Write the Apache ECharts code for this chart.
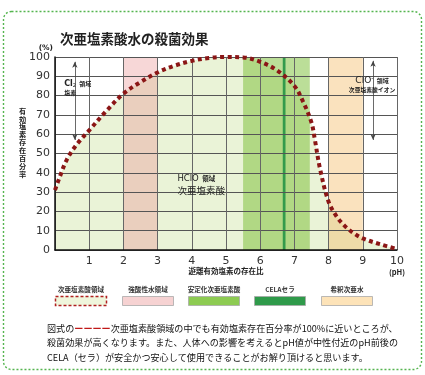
<!DOCTYPE html>
<html><head><meta charset="utf-8">
<script src="https://cdn.jsdelivr.net/npm/echarts@6/dist/echarts.min.js"></script>
<style>html,body{margin:0;padding:0;background:#fff}#c{width:425px;height:375px}</style>
</head><body><div id="c"></div>
<script>
// ---- data ----
const titleText = '次亜塩素酸水の殺菌効果';
const yAxisTitle = '有効塩素存在百分率';
const xAxisTitle = '遊離有効塩素の存在比';
const yTicks = [0,10,20,30,40,50,60,70,80,90,100];
const xTicks = [1,2,3,4,5,6,7,8,9,10];
const curvePH = [0, 0.1, 0.35, 0.65, 1, 1.5, 2, 2.5, 3, 3.5, 4, 4.5, 5, 5.5, 6, 6.5, 7, 7.25, 7.5, 7.6, 7.75, 8, 8.25, 8.5, 8.75, 9, 9.5, 10];
const curveRatio = [31, 36, 47, 55, 62, 72, 81, 87, 92, 95.5, 98, 99.5, 100, 99.8, 97.5, 93, 85, 77, 66, 57, 42, 25, 17, 12, 8.5, 6, 3, 0.5];
const bandNames = ['強酸性水領域', '安定化次亜塩素酸', 'CELAセラ', '希釈次亜水'];
const bandStart = [2, 5.5, 6.66, 8];
const bandEnd = [3, 7.45, 6.74, 9];
const legendNames = ['次亜塩素酸領域', '強酸性水領域', '安定化次亜塩素酸', 'CELAセラ', '希釈次亜水'];
const paragraph = [
  '図式の{r|ーーーー}次亜塩素酸領域の中でも有効塩素存在百分率が100%に近いところが、',
  '殺菌効果が高くなります。また、人体への影響を考えるとpH値が中性付近のpH前後の',
  'CELA（セラ）が安全かつ安心して使用できることがお解り頂けると思います。'
];

// ---- styles ----
const bandColors = ['rgba(235,150,150,0.38)', 'rgba(120,190,50,0.5)', 'rgba(40,150,70,0.92)', 'rgba(245,190,110,0.45)'];
const legendFill = ['#eff6dc', '#f6d2d2', '#8dcb52', '#2f9a4a', '#fde3b8'];
const JP = '"Noto Sans CJK JP", sans-serif';
const NUM = '"DejaVu Sans", sans-serif';

const chart = echarts.init(document.getElementById('c'));
const pts = curvePH.map((x, i) => [x, curveRatio[i]]);

chart.setOption({
  animation: false,
  title: {text: titleText, left: 55, top: 27, textStyle: {fontFamily: JP, fontSize: 13.5, fontWeight: 'bold', color: '#222'}},
  grid: {left: 55, right: 28, top: 57, bottom: 125},
  xAxis: {
    type: 'value', min: 0, max: 10, interval: 1, z: 5,
    axisLine: {lineStyle: {color: '#111', width: 1.5}},
    axisTick: {show: false},
    axisLabel: {margin: 6, fontFamily: NUM, fontSize: 11, color: '#333',
      formatter: v => v === 0 ? '' : (v === 10 ? '10\n{p|(pH)}' : String(v)),
      rich: {p: {fontFamily: JP, fontSize: 7.5, color: '#222', fontWeight: 'bold', lineHeight: 10}}},
    splitLine: {show: true, lineStyle: {color: '#666', width: 1}}
  },
  yAxis: {
    type: 'value', min: 0, max: 100, interval: 10, z: 5,
    name: '(%)', nameLocation: 'end', nameGap: 4,
    nameTextStyle: {fontFamily: NUM, fontSize: 7.5, color: '#222', fontWeight: 'bold', align: 'right', padding: [0, 2, 0, 0]},
    axisLine: {show: true, lineStyle: {color: '#111', width: 1.5}},
    axisTick: {show: false},
    axisLabel: {margin: 5, fontFamily: NUM, fontSize: 11, color: '#333'},
    splitLine: {show: true, lineStyle: {color: '#555', width: 1}}
  },
  series: [
    {
      type: 'line', z: 1, data: pts, smooth: 0.35, showSymbol: false, silent: true,
      lineStyle: {opacity: 0}, areaStyle: {color: '#eaf3d7', opacity: 1}
    },
    {
      type: 'line', z: 3, data: [[0, 0]], showSymbol: false, lineStyle: {opacity: 0}, silent: true,
      markArea: {silent: true, z: 3, data: bandStart.map((s, i) => [
        {name: bandNames[i], xAxis: s, itemStyle: {color: bandColors[i]}},
        {xAxis: bandEnd[i]}
      ]), label: {show: false}},
      markLine: {silent: true, z: 6, symbol: ['arrow', 'arrow'], symbolSize: [4, 6],
        lineStyle: {color: '#444', width: 0.8, type: 'solid'}, label: {show: false},
        data: [
          [{coord: [0.58, 97.5]}, {coord: [0.58, 57]}],
          [{coord: [9.3, 98]}, {coord: [9.3, 57]}]
        ]}
    },
    {
      type: 'line', z: 7, data: pts, smooth: 0.35, showSymbol: false,
      lineStyle: {color: '#8b1616', width: 4, type: [4, 3.5], cap: 'butt'}
    }
  ]
});

// ---- annotations & legend & text ----
const p = (x, y) => chart.convertToPixel({gridIndex: 0}, [x, y]);
const a1 = p(0.27, 84.5), a2 = p(9.27, 86), a3 = p(3.58, 34);
const xn = p(5, 0);
const graphics = [
  {type: 'rect', z: 0, shape: {x: 3.5, y: 11.5, width: 418, height: 358, r: 8},
   style: {fill: 'none', stroke: '#55b54f', lineWidth: 1.4, lineDash: [2, 2]}},
  {type: 'text', z: 10, left: 19, top: 107, style: {text: yAxisTitle.split('').join('\n'), fontFamily: JP, fontSize: 7.2, fontWeight: 'bold', lineHeight: 7.9, fill: '#222'}},
  {type: 'text', z: 10, x: xn[0], y: xn[1] + 21, style: {text: xAxisTitle, align: 'center', verticalAlign: 'middle', fontFamily: JP, fontSize: 7.5, fontWeight: 'bold', fill: '#222'}},
  {type: 'text', z: 10, x: a1[0], y: a1[1], style: {
    text: '{a|Cl}{s|2} {b|領域}\n{b|塩素}', verticalAlign: 'middle',
    rich: {a: {fontFamily: NUM, fontSize: 8, fontWeight: 'bold', fill: '#222'}, s: {fontFamily: NUM, fontSize: 5, fill: '#222', padding: [4, 0, 0, 0]}, b: {fontFamily: JP, fontSize: 6, fontWeight: 'bold', fill: '#222'}}}},
  {type: 'text', z: 10, x: a2[0], y: a2[1], style: {
    text: '{a|ClO}{s|-} {b|領域}\n{c|次亜塩素酸イオン}', align: 'center', verticalAlign: 'middle',
    rich: {a: {fontFamily: NUM, fontSize: 9, fill: '#222'}, s: {fontFamily: NUM, fontSize: 6, fill: '#222', padding: [0, 0, 5, 0]}, b: {fontFamily: JP, fontSize: 6, fontWeight: 'bold', fill: '#222'}, c: {fontFamily: JP, fontSize: 5.8, fontWeight: 'bold', fill: '#222'}}}},
  {type: 'text', z: 10, x: a3[0], y: a3[1], style: {
    text: '{a|HClO} {b|領域}\n{c|次亜塩素酸}', verticalAlign: 'middle',
    rich: {a: {fontFamily: NUM, fontSize: 8.5, fill: '#222', lineHeight: 11}, b: {fontFamily: JP, fontSize: 6.5, fontWeight: 'bold', fill: '#222'}, c: {fontFamily: JP, fontSize: 9.5, fill: '#222', lineHeight: 12}}}},
  {type: 'text', z: 10, left: 47, top: 321, style: {
    text: paragraph.join('\n'), fontFamily: JP, fontSize: 9.1, lineHeight: 14.5, fill: '#111',
    rich: {r: {fontFamily: JP, fontSize: 9.1, fill: '#c01818', fontWeight: 'bold'}}}}
];
const legX = [55, 122, 188, 254, 321];
legendNames.forEach((n, i) => {
  graphics.push({type: 'text', z: 10, x: legX[i] + 26, y: 289, style: {text: n, align: 'center', verticalAlign: 'middle', fontFamily: JP, fontSize: 6.6, fontWeight: 'bold', fill: '#333'}});
  graphics.push({type: 'rect', z: 10, shape: {x: legX[i] + 0.5, y: 296.5, width: 51, height: 9},
    style: i === 0 ? {fill: legendFill[i], stroke: '#b02020', lineWidth: 1.5, lineDash: [3, 2]} : {fill: legendFill[i], stroke: '#aaa', lineWidth: 0.8}});
});
chart.setOption({graphic: graphics});
</script></body></html>
